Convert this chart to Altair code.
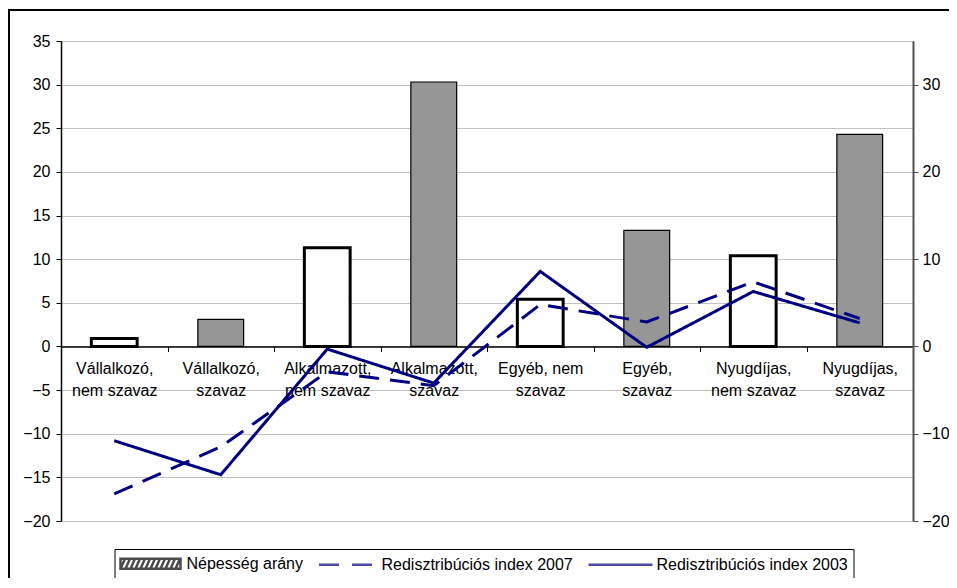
import altair as alt
import pandas as pd

# ---- data ----
categories = [
    "Vállalkozó,\nnem szavaz",
    "Vállalkozó,\nszavaz",
    "Alkalmazott,\nnem szavaz",
    "Alkalmazott,\nszavaz",
    "Egyéb, nem\nszavaz",
    "Egyéb,\nszavaz",
    "Nyugdíjas,\nnem szavaz",
    "Nyugdíjas,\nszavaz",
]
bar_type = ["nem szavaz", "szavaz", "nem szavaz", "szavaz",
            "nem szavaz", "szavaz", "nem szavaz", "szavaz"]
nepesseg_arany = [0.9, 3.1, 11.3, 30.3, 5.4, 13.3, 10.4, 24.3]
index_2007 = [-16.9, -11.5, -2.9, -4.5, 4.8, 2.8, 7.4, 3.2]
index_2003 = [-10.8, -14.7, -0.3, -4.2, 8.6, -0.1, 6.3, 2.7]
series_names = ["Népesség arány", "Redisztribúciós index 2007", "Redisztribúciós index 2003"]
left_ticks = list(range(-20, 40, 5))
right_ticks = [-20, -10, 0, 10, 20, 30]
y_domain = [-20, 35]

bars_df = pd.DataFrame({"cat": categories, "value": nepesseg_arany, "type": bar_type})
lines_df = pd.DataFrame({
    "cat": categories * 2,
    "value": index_2007 + index_2003,
    "series": [series_names[1]] * len(categories) + [series_names[2]] * len(categories),
})
legend_df = pd.DataFrame({"series": series_names, "v": [None] * len(series_names)})

W, H = 852, 480
PAD = {"left": 53, "top": 33, "right": 36, "bottom": 57}
FONT = "Liberation Sans"
NAVY = "#000080"

xscale = alt.Scale(type="band", domain=categories, paddingInner=0, paddingOuter=0)

x_axis = alt.Axis(
    title=None, orient="bottom", offset=-H * 20 / 55, tickBand="extent",
    labelAngle=0, labelExpr="split(datum.label, '\\n')", labelFont=FONT,
    labelFontSize=16, labelColor="black", labelLineHeight=22, labelPadding=9,
    labelBaseline="top", labelOverlap=False, labelLimit=300,
    tickSize=5, tickColor="black", domainColor="black", domainWidth=1.5, grid=False,
)

left_axis = alt.Axis(
    title=None, values=left_ticks, grid=True, gridColor="#c0c0c0", gridWidth=1,
    labelFont=FONT, labelFontSize=16, labelColor="black", labelPadding=6,
    tickSize=5, tickColor="black", domainColor="black", domainWidth=1.5,
)

right_axis = alt.Axis(
    title=None, orient="right", values=right_ticks, grid=False,
    labelFont=FONT, labelFontSize=16, labelColor="black", labelPadding=4,
    tickSize=5, tickColor="#505050", domainColor="#505050", domainWidth=2,
)

# legend symbol paths (scaled by 8 px per unit with symbolSize=256)
hatch = "M-3.75,-0.625L3.75,-0.625L3.75,0.625L-3.75,0.625Z"
k = -3.75
while k < 3.5:
    hatch += f"M{k:.3f},0.625L{k + 0.56:.3f},-0.625"
    k += 0.625
dashed = "M-3.31,0L-0.81,0M0.81,0L3.31,0"
solid = "M-4,0L4,0"

legend = alt.Legend(
    title=None, orient="none", legendX=53.5, legendY=508, direction="horizontal",
    symbolSize=256, symbolStrokeWidth=2.5, symbolOffset=21.5,
    labelFont=FONT, labelFontSize=16, labelColor="black", labelOffset=26.5,
    columnPadding=10, padding=5, strokeColor="black", fillColor="white",
    labelLimit=400,
)

bars = alt.Chart(bars_df).mark_bar(
    width=alt.RelativeBandSize(0.43), stroke="black"
).encode(
    x=alt.X("cat:N", sort=categories, scale=xscale, axis=x_axis),
    y=alt.Y("value:Q", scale=alt.Scale(domain=y_domain, nice=False, zero=False), axis=left_axis),
    y2=alt.datum(0),
    fill=alt.Fill("type:N", scale=alt.Scale(domain=["nem szavaz", "szavaz"], range=["white", "#969696"]), legend=None),
    strokeWidth=alt.StrokeWidth("type:N", scale=alt.Scale(domain=["nem szavaz", "szavaz"], range=[3, 1.2]), legend=None),
)

lines = alt.Chart(lines_df).mark_line(strokeWidth=3, color=NAVY).encode(
    x=alt.X("cat:N", sort=categories, scale=xscale),
    y=alt.Y("value:Q", scale=alt.Scale(domain=y_domain, nice=False, zero=False), axis=right_axis),
    strokeDash=alt.StrokeDash("series:N", scale=alt.Scale(domain=series_names[1:], range=[[20, 11], [1, 0]]), legend=None),
    detail="series:N",
)

legend_layer = alt.Chart(legend_df).mark_point(filled=False).encode(
    y=alt.Y("v:Q", scale=alt.Scale(domain=y_domain, nice=False, zero=False), axis=None),
    color=alt.Color("series:N", scale=alt.Scale(domain=series_names, range=["black", NAVY, NAVY]), legend=legend),
    shape=alt.Shape("series:N", scale=alt.Scale(domain=series_names, range=[hatch, dashed, solid]), legend=legend),
)

# outer chart frame: only top and left edges are visible in the reference
frame_top = alt.Chart(pd.DataFrame({"f": [0]})).mark_rule(stroke="black", strokeWidth=2).encode(
    x=alt.value(-53), x2=alt.value(W + PAD["right"]), y=alt.value(-31)
)
frame_left = alt.Chart(pd.DataFrame({"f": [0]})).mark_rule(stroke="black", strokeWidth=2).encode(
    x=alt.value(-52), y=alt.value(-32), y2=alt.value(H + PAD["bottom"])
)

chart = alt.layer(bars, lines, legend_layer, frame_top, frame_left).resolve_scale(y="independent").properties(
    width=W, height=H, autosize="none", padding=PAD, background="white",
).configure_view(stroke="#808080", strokeWidth=1)

chart.save("out.html", embed_options={"renderer": "svg", "actions": False})
